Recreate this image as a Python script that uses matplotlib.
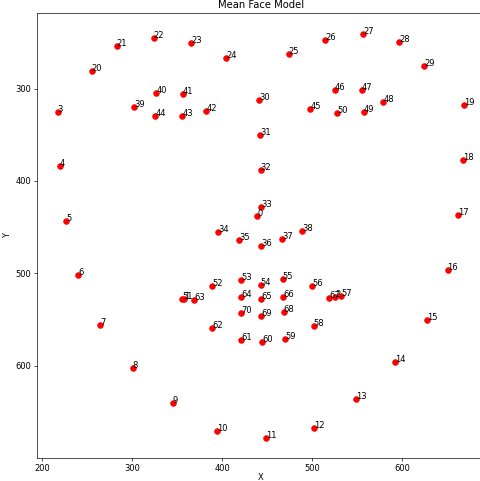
import matplotlib
matplotlib.use("Agg")
import matplotlib.pyplot as plt

# mean face landmarks (index = position in list)
xs = [439.3, 357.9, 525.9, 217.2, 219.4, 226.9, 239.9, 264.3, 300.5, 345.4,
      394.2, 449.3, 502.6, 549.3, 592.6, 628.1, 650.7, 662.2, 667.7, 669.4,
      255.0, 282.7, 323.8, 366.0, 404.5, 474.2, 514.5, 557.0, 597.0, 624.8,
      441.5, 442.3, 443.1, 443.4, 395.7, 419.3, 443.4, 467.1, 489.3, 302.0,
      326.8, 356.4, 382.7, 355.7, 325.7, 498.2, 525.6, 555.2, 579.2, 557.8,
      528.2, 355.7, 389.0, 421.6, 443.1, 467.5, 500.4, 532.6, 501.9, 470.4,
      444.9, 421.2, 389.0, 369.3, 421.6, 443.4, 467.8, 518.9, 468.6, 443.4,
      421.6]
ys = [438.1, 527.7, 526.0, 324.9, 384.2, 443.5, 502.1, 555.9, 602.2, 640.5,
      671.2, 677.8, 667.2, 636.1, 596.4, 550.5, 495.9, 436.6, 377.4, 317.3,
      281.2, 253.8, 245.1, 250.6, 266.8, 263.1, 246.9, 240.4, 249.5, 276.1,
      312.4, 350.6, 388.6, 427.9, 455.5, 463.7, 470.2, 462.6, 454.7, 319.5,
      305.1, 305.4, 324.3, 329.3, 330.0, 322.4, 301.8, 301.1, 314.9, 325.4,
      326.8, 527.7, 514.0, 507.1, 512.9, 506.4, 513.3, 524.1, 556.6, 571.1,
      574.3, 572.1, 558.8, 528.8, 526.0, 527.7, 525.2, 526.6, 542.2, 545.8,
      543.3]
labels = [str(i) for i in range(len(xs))]

fig = plt.figure(figsize=(8, 481 / 60), dpi=60)
ax = fig.add_axes([0.0777, 0.0484, 0.932, 0.9239])

ax.scatter(xs, ys, c="red", s=45)
for x, y, lab in zip(xs, ys, labels):
    ax.text(x, y, lab, fontsize=10)

ax.invert_yaxis()
ax.set_title("Mean Face Model", fontsize=12)
ax.set_xlabel("X", labelpad=0.5)
ax.set_ylabel("Y")

fig.savefig("out.png", dpi=60)
